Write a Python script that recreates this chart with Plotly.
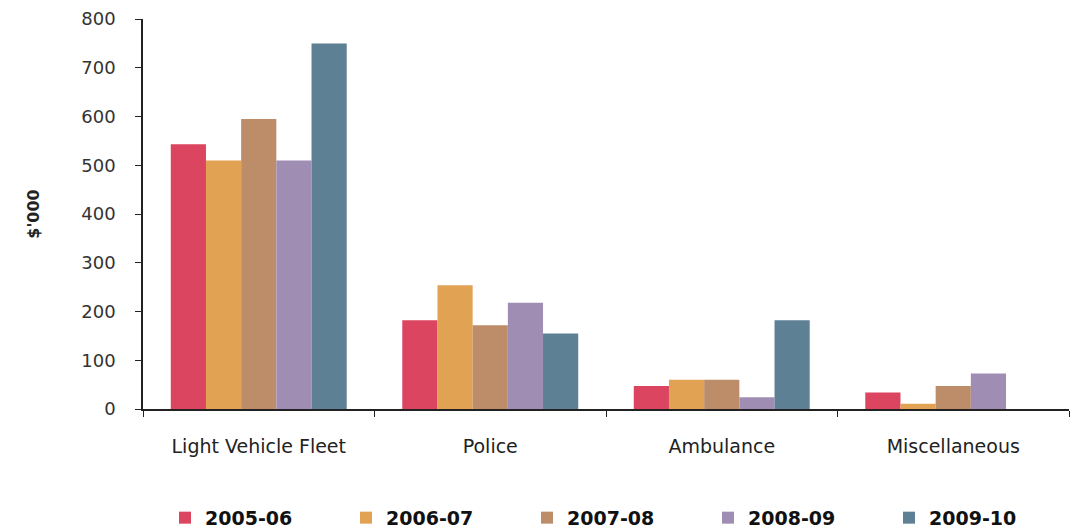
import plotly.graph_objects as go

categories = ["Light Vehicle Fleet", "Police", "Ambulance", "Miscellaneous"]
years = ["2005-06", "2006-07", "2007-08", "2008-09", "2009-10"]
v_2005_06 = [543, 182, 47, 34]
v_2006_07 = [510, 254, 60, 11]
v_2007_08 = [595, 172, 60, 47]
v_2008_09 = [510, 218, 24, 73]
v_2009_10 = [750, 155, 182, 0]
series = [v_2005_06, v_2006_07, v_2007_08, v_2008_09, v_2009_10]
colors = ["#DB4560", "#E2A254", "#BD8D69", "#A08DB3", "#5E8095"]

fig = go.Figure()
for name, vals, c in zip(years, series, colors):
    fig.add_trace(go.Bar(x=categories, y=vals, name=name, marker=dict(color=c, line=dict(width=0))))

fig.update_layout(
    width=1070, height=530,
    margin=dict(l=143, r=1, t=19, b=121),
    paper_bgcolor="white", plot_bgcolor="white",
    barmode="group", bargap=0.24, bargroupgap=0,
    font=dict(family="DejaVu Sans, Liberation Sans, Arial, sans-serif", color="#333333"),
    showlegend=True,
    legend=dict(orientation="h", xref="paper", yref="container",
                x=0.045, xanchor="left", y=0.023, yanchor="middle",
                font=dict(size=19, color="#111111", family="DejaVu Sans, Arial, sans-serif", weight="bold"),
                entrywidth=136, entrywidthmode="pixels", itemwidth=30,
                traceorder="normal"),
)
fig.update_yaxes(range=[0, 800], tickvals=[0, 100, 200, 300, 400, 500, 600, 700, 800],
                 showgrid=False, zeroline=False, showline=True, linecolor="#222222", linewidth=1.5,
                 ticks="outside", ticklen=6, tickcolor="#222222", tickfont=dict(size=18, color="#333333"),
                 ticklabelstandoff=16,
                 title=dict(text="<b>$'000</b>", font=dict(size=16, color="#222222"), standoff=38))
fig.update_xaxes(showgrid=False, showline=True, linecolor="#222222", linewidth=1.5,
                 ticks="outside", tickson="boundaries", ticklen=6, tickcolor="#222222",
                 tickfont=dict(size=19, color="#222222"), ticklabelstandoff=19)

fig.write_html("out.html")
